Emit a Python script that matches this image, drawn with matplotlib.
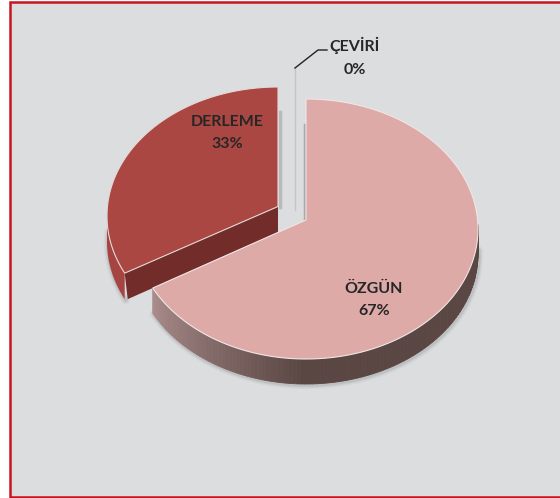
import numpy as np
import matplotlib
matplotlib.use('Agg')
import matplotlib.pyplot as plt
import matplotlib.colors as clrs
from matplotlib.patches import Polygon, Rectangle

labels = ['ÖZGÜN', 'DERLEME', 'ÇEVİRİ']
shares = [67, 33, 0]

plt.rcParams['font.family'] = ['Lato', 'DejaVu Sans']

fig = plt.figure(figsize=(5.6, 4.98), dpi=100, facecolor='white')
ax = fig.add_axes([0, 0, 1, 1])
ax.set_xlim(0, 560)
ax.set_ylim(498, 0)
ax.axis('off')

ax.add_patch(Rectangle((9.5, 2), 560, 495, fc='#dcdddf', ec='#c9141f', lw=1.8, zorder=0))

# ellipse param is a little off the true angle because of the perspective
skew = 2.5
split = 360 * shares[0] / sum(shares) + skew


def rim(cx, cy, a, b, t0, t1, n=200):
    t = np.radians(np.linspace(t0, t1, n))
    return np.c_[cx + a * np.sin(t), cy - b * np.cos(t)]


def soft_shadow(pts):
    for w, al in [(6, 0.05), (4, 0.07), (2.5, 0.10)]:
        ax.plot(pts[:, 0] + 1, pts[:, 1] + 1, color='#555555', lw=w, alpha=al, zorder=1,
                solid_capstyle='round')


# DERLEME, pulled out to the left
dx, dy, da, db = 278, 216, 171, 129
apex_d = (278, 206.5)
depth = 26
top_d = rim(dx, dy, da, db, split, 360)
tip = top_d[0]
side_out = np.vstack([rim(dx, dy + depth, da, db, split, 270), rim(dx, dy, da, db, 270, split)])
soft_shadow(rim(dx, dy + depth, da, db, split, 275))
ax.add_patch(Polygon(side_out, fc='#a64441', ec='none', zorder=2))
ax.plot([apex_d[0] + 1.5, apex_d[0] + 1.5], [112, apex_d[1]], color='#b9b9bb', lw=2.5, zorder=1.5)
ax.add_patch(Polygon([tip, apex_d, (apex_d[0], apex_d[1] + depth), (tip[0] + 3, tip[1] + depth)],
                     fc='#722d2b', ec='none', zorder=3))
ax.add_patch(Polygon(np.vstack([[apex_d], top_d]), fc='#ab4742', ec='#e4d8d8', lw=0.8, zorder=4))

# OZGUN
ox, oy, oa, ob = 306, 229, 172, 130
apex_o = (306, 220)
top_o = rim(ox, oy, oa, ob, 0, split - 0.7)
start, stop = 88, split - 0.7
soft_shadow(rim(ox, oy + 25, oa, ob, start, stop))
ax.plot([apex_o[0] - 1.5, apex_o[0] - 1.5], [125, apex_o[1]], color='#a9a9ab', lw=2.5, zorder=1.5)
grad = clrs.LinearSegmentedColormap.from_list('side', ['#5a4643', '#5a4643', '#a98c8b'])
ts = np.linspace(start, stop, 120)
for i in range(len(ts) - 1):
    lower = rim(ox, oy + 25, oa, ob, ts[i], ts[i + 1], 4)
    upper = rim(ox, oy, oa, ob, ts[i + 1], ts[i], 4)
    f = max(0, (ts[i] - 180) / (stop - 180))
    c = grad(0.5 + 0.5 * f)
    ax.add_patch(Polygon(np.vstack([lower, upper]), fc=c, ec=c, lw=0.6, zorder=5))
ax.add_patch(Polygon(np.vstack([[apex_o], top_o]), fc='#deaaa8', ec='#efe6e6', lw=0.8, zorder=6))

# CEVIRI has no slice, only its leader line
ax.plot([295, 295], [210, 68], color='#c4c5c7', lw=1, zorder=1)
ax.plot([295, 318, 327], [68, 50, 50], color='#222222', lw=1, zorder=7)

pos = [(374, 300), (227, 133), (355, 57)]
for lab, v, (x, y) in zip(labels, shares, pos):
    ax.text(x, y, '%s\n%d%%' % (lab, v), ha='center', va='center', fontsize=11.5, fontweight='bold',
            color='#262626', linespacing=1.8, zorder=8)

plt.savefig('out.png', dpi=100)
